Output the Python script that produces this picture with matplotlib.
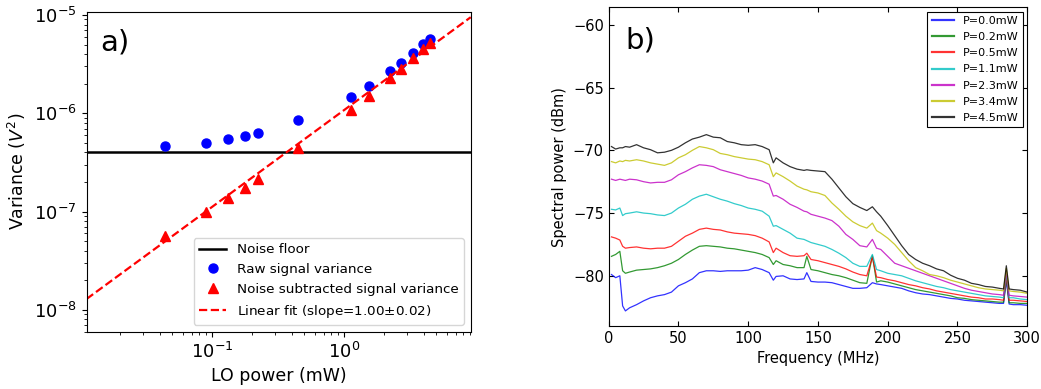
import numpy as np
import matplotlib.pyplot as plt

# ---- panel a) data (read off the reference) ----
lo_power = [0.0441, 0.0895, 0.133, 0.179, 0.221, 0.447, 1.12, 1.55, 2.24, 2.70, 3.34, 3.97, 4.49]
raw_var = [4.65e-7, 5.02e-7, 5.52e-7, 5.88e-7, 6.26e-7, 8.55e-7, 1.47e-6, 1.91e-6,
           2.71e-6, 3.23e-6, 4.07e-6, 5.04e-6, 5.66e-6]
sub_var = [5.65e-8, 9.97e-8, 1.38e-7, 1.75e-7, 2.13e-7, 4.41e-7, 1.08e-6, 1.50e-6,
           2.27e-6, 2.80e-6, 3.68e-6, 4.54e-6, 5.22e-6]
noise_floor = 4.06e-7
fit_x = [0.0112, 9.1]
fit_y = [1.29e-8, 9.5e-6]

# ---- panel b) data ----
freq = [2, 5, 8, 10, 12, 15, 20, 25, 30, 35, 40, 45, 50, 55, 60, 65, 70, 75, 80, 85,
        90, 95, 100, 105, 110, 115, 118, 120, 125, 130, 135, 140, 142, 145, 150, 155,
        160, 165, 170, 175, 180, 185, 189, 192, 195, 200, 205, 210, 215, 220, 225, 230,
        235, 240, 245, 250, 255, 260, 265, 270, 275, 280, 283, 285, 287, 290, 295, 300]

p00 = [-79.9, -80.15, -80.0, -82.4, -82.8, -82.55, -82.3, -82.0, -81.75, -81.6, -81.5, -81.3,
       -80.8, -80.55, -80.25, -79.75, -79.6, -79.6, -79.65, -79.6, -79.6, -79.6, -79.55, -79.35,
       -79.5, -79.75, -80.35, -80.05, -80.0, -80.25, -80.3, -80.25, -79.75, -80.45, -80.5, -80.5,
       -80.55, -80.7, -80.85, -81.0, -81.0, -80.95, -80.55, -80.65, -80.7, -80.8, -80.9, -81.0,
       -81.2, -81.35, -81.45, -81.5, -81.6, -81.7, -81.8, -81.85, -81.95, -82.0, -82.05, -82.1,
       -82.15, -82.2, -82.2, -80.4, -82.25, -82.3, -82.3, -82.35]
p02 = [-78.45, -78.3, -78.05, -79.6, -79.8, -79.7, -79.55, -79.5, -79.45, -79.35, -79.2, -79.0,
       -78.7, -78.3, -77.95, -77.65, -77.6, -77.65, -77.7, -77.8, -77.85, -77.95, -78.05, -78.15,
       -78.3, -78.55, -79.1, -78.8, -79.1, -79.2, -79.35, -79.35, -78.45, -79.5, -79.6, -79.75,
       -79.9, -80.0, -80.15, -80.35, -80.55, -80.6, -78.4, -80.5, -80.4, -80.5, -80.65, -80.8,
       -80.95, -81.1, -81.2, -81.3, -81.4, -81.5, -81.6, -81.75, -81.8, -81.9, -81.95, -82.0,
       -82.05, -82.1, -82.1, -80.2, -82.15, -82.15, -82.2, -82.2]
p05 = [-76.9, -77.0, -77.15, -77.65, -77.8, -77.75, -77.7, -77.8, -77.85, -77.8, -77.8, -77.65,
       -77.25, -76.85, -76.6, -76.3, -76.2, -76.3, -76.35, -76.5, -76.6, -76.65, -76.7, -76.8,
       -77.0, -77.3, -78.15, -77.8, -78.15, -78.4, -78.45, -78.4, -78.2, -78.7, -78.8, -78.95,
       -79.1, -79.25, -79.45, -79.7, -79.9, -80.0, -78.5, -80.1, -80.15, -80.3, -80.4, -80.55,
       -80.7, -80.8, -80.95, -81.05, -81.2, -81.3, -81.4, -81.5, -81.6, -81.7, -81.75, -81.85,
       -81.85, -81.9, -81.95, -80.0, -81.95, -81.95, -82.0, -82.05]
p11 = [-74.7, -74.75, -74.6, -75.2, -75.05, -75.0, -74.9, -75.0, -75.05, -75.15, -75.2, -75.0,
       -74.6, -74.3, -73.9, -73.65, -73.5, -73.7, -73.9, -74.05, -74.25, -74.4, -74.6, -74.7,
       -74.85, -75.25, -76.05, -76.0, -76.3, -76.6, -77.0, -77.1, -77.2, -77.35, -77.5, -77.65,
       -77.9, -78.2, -78.55, -79.0, -79.25, -79.25, -78.3, -79.5, -79.6, -79.8, -79.9, -80.0,
       -80.2, -80.4, -80.55, -80.7, -80.85, -80.95, -81.1, -81.2, -81.3, -81.4, -81.5, -81.6,
       -81.65, -81.7, -81.75, -79.8, -81.75, -81.75, -81.85, -81.9]
p23 = [-72.3, -72.4, -72.3, -72.35, -72.4, -72.3, -72.35, -72.5, -72.6, -72.55, -72.55, -72.35,
       -71.95, -71.7, -71.4, -71.15, -71.2, -71.3, -71.55, -71.7, -71.85, -72.0, -72.2, -72.3,
       -72.45, -72.7, -73.65, -73.6, -73.9, -74.3, -74.55, -74.85, -74.9, -75.1, -75.25, -75.4,
       -75.6, -76.05, -76.7, -77.1, -77.6, -77.7, -77.1, -77.8, -77.9, -78.45, -79.0, -79.2,
       -79.4, -79.6, -79.8, -80.0, -80.2, -80.4, -80.6, -80.8, -81.0, -81.15, -81.25, -81.35,
       -81.45, -81.5, -81.55, -79.6, -81.55, -81.6, -81.65, -81.7]
p34 = [-70.9, -71.0, -70.85, -70.9, -70.8, -70.85, -70.75, -70.85, -71.0, -71.1, -71.2, -71.0,
       -70.6, -70.35, -70.0, -69.7, -69.8, -69.95, -70.25, -70.35, -70.5, -70.6, -70.7, -70.75,
       -70.9, -71.15, -72.1, -71.8, -72.1, -72.45, -72.85, -73.1, -73.15, -73.3, -73.4, -73.6,
       -74.2, -74.7, -75.25, -75.7, -76.0, -76.2, -75.8, -76.4, -76.6, -77.0, -77.5, -78.15,
       -78.8, -79.35, -79.6, -79.9, -80.0, -80.15, -80.35, -80.5, -80.65, -80.8, -80.95, -81.05,
       -81.1, -81.15, -81.2, -79.4, -81.2, -81.25, -81.3, -81.4]
p45 = [-69.7, -69.9, -69.8, -69.8, -69.7, -69.75, -69.55, -69.8, -69.95, -70.2, -70.15, -70.0,
       -69.75, -69.4, -69.1, -68.95, -68.75, -68.95, -69.0, -69.3, -69.4, -69.55, -69.6, -69.55,
       -69.7, -69.95, -71.0, -70.6, -71.0, -71.3, -71.5, -71.6, -71.55, -71.6, -71.65, -71.7,
       -72.3, -73.0, -73.7, -74.25, -74.55, -74.8, -74.5, -74.9, -75.25, -76.0, -76.8, -77.6,
       -78.3, -78.7, -79.0, -79.2, -79.45, -79.6, -79.95, -80.2, -80.35, -80.6, -80.7, -80.85,
       -80.9, -81.0, -81.05, -79.2, -81.05, -81.1, -81.15, -81.3]

spectra = [p00, p02, p05, p11, p23, p34, p45]
labels = ['P=0.0mW', 'P=0.2mW', 'P=0.5mW', 'P=1.1mW', 'P=2.3mW', 'P=3.4mW', 'P=4.5mW']
colors = ['b', 'g', 'r', 'c', 'm', 'y', 'k']

fig = plt.figure(figsize=(10.41, 3.89), dpi=100)

# ---------------- a) ----------------
ax1 = fig.add_axes([0.0831, 0.1473, 0.3691, 0.8226])
ax1.axhline(noise_floor, color='k', lw=1.8, label='Noise floor')
ax1.plot(lo_power, raw_var, 'o', color='b', ms=6.5, label='Raw signal variance')
ax1.plot(lo_power, sub_var, '^', color='r', ms=7, label='Noise subtracted signal variance')
ax1.plot(fit_x, fit_y, '--', color='r', lw=1.6, label=r'Linear fit (slope=1.00$\pm$0.02)')
ax1.set_xscale('log')
ax1.set_yscale('log')
ax1.set_xlim(0.0112, 9.1)
ax1.set_ylim(6.0e-9, 1.08e-5)
ax1.set_xlabel('LO power (mW)', fontsize=12.5)
ax1.set_ylabel(r'Variance ($V^2$)', fontsize=12.5)
ax1.tick_params(labelsize=13)
ax1.text(0.035, 0.905, 'a)', transform=ax1.transAxes, fontsize=21, va='center')
ax1.legend(loc='lower right', fontsize=9.7, borderaxespad=0.5)

# ---------------- b) ----------------
ax2 = fig.add_axes([0.5847, 0.162, 0.4021, 0.8193])
for y, lab, c in zip(spectra, labels, colors):
    ax2.plot(freq, y, color=c, lw=0.9, alpha=0.8, label=lab)
ax2.set_xlim(0, 300)
ax2.set_ylim(-84, -58.6)
ax2.set_yticks([-60, -65, -70, -75, -80])
ax2.set_xlabel('Frequency (MHz)', fontsize=10.5)
ax2.set_ylabel('Spectral power (dBm)', fontsize=10.5)
ax2.tick_params(direction='in', top=True, right=True, labelsize=10.5)
ax2.text(0.041, 0.896, 'b)', transform=ax2.transAxes, fontsize=21, va='center')
leg = ax2.legend(loc='upper right', fontsize=8, fancybox=False, edgecolor='k',
                 framealpha=1, borderaxespad=0.4, labelspacing=0.55)
leg.get_frame().set_linewidth(0.8)
for h in leg.get_lines():
    h.set_linewidth(1.6)

plt.savefig('out.png', dpi=100)
